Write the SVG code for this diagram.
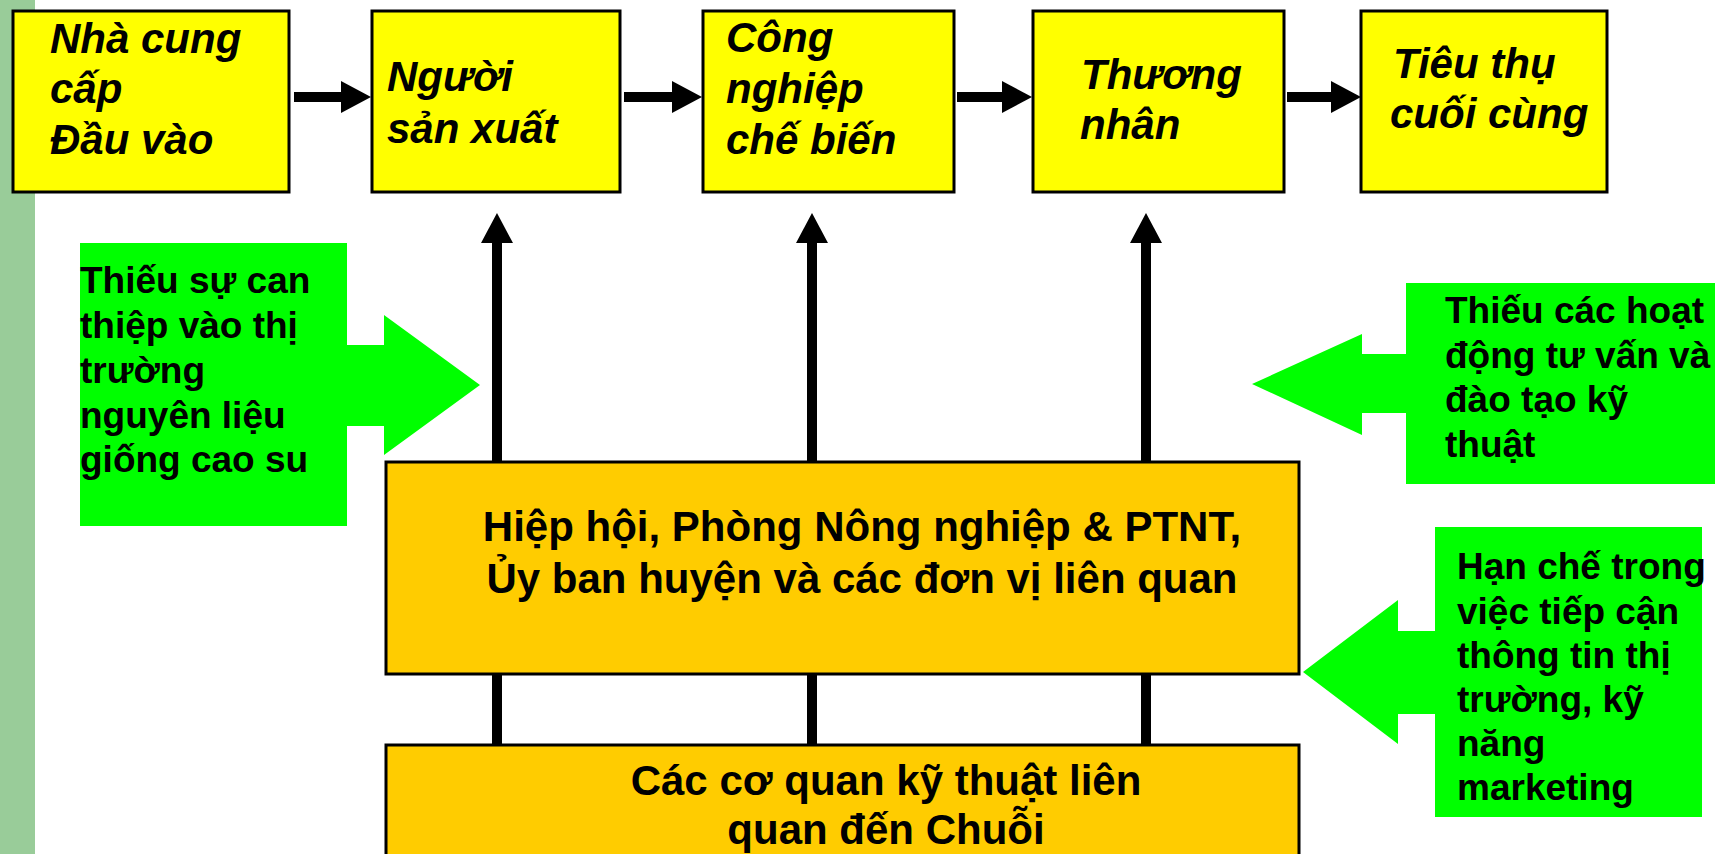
<svg xmlns="http://www.w3.org/2000/svg" width="1718" height="854" viewBox="0 0 1718 854">
<style>
.top{fill:#FFFF00;stroke:#000;stroke-width:3}
.org{fill:#FFCC00;stroke:#000;stroke-width:3}
.grn{fill:#00FF00;stroke:none}
.ti{font-family:"Liberation Sans",Arial,sans-serif;font-weight:bold;font-style:italic;font-size:42px;fill:#000}
.tb{font-family:"Liberation Sans",Arial,sans-serif;font-weight:bold;font-size:42px;fill:#000}
.tg{font-family:"Liberation Sans",Arial,sans-serif;font-weight:bold;font-size:37px;fill:#000}
.conn{stroke:#000;stroke-width:10;fill:none}
</style>
<defs>
<marker id="ah" viewBox="0 0 30 32" markerUnits="userSpaceOnUse" markerWidth="30" markerHeight="32" refX="0" refY="16" orient="auto">
<path d="M0,0 L30,16 L0,32 z" fill="#000"/>
</marker>
</defs>
<rect x="0" y="0" width="1718" height="854" fill="#fff"/>
<rect x="0" y="0" width="35" height="854" fill="#99CC99"/>

<g id="connectors">
<path class="conn" d="M294,97 H341" marker-end="url(#ah)"/>
<path class="conn" d="M624,97 H672" marker-end="url(#ah)"/>
<path class="conn" d="M957,97 H1002" marker-end="url(#ah)"/>
<path class="conn" d="M1287,97 H1331" marker-end="url(#ah)"/>
<path class="conn" d="M497,462 V243" marker-end="url(#ah)"/>
<path class="conn" d="M812,462 V243" marker-end="url(#ah)"/>
<path class="conn" d="M1146,462 V243" marker-end="url(#ah)"/>
<path class="conn" d="M497,674 V745"/>
<path class="conn" d="M812,674 V745"/>
<path class="conn" d="M1146,674 V745"/>
</g>

<g id="n1">
<rect class="top" x="13" y="11" width="276" height="181"/>
<text class="ti" x="50" y="53">Nhà cung</text>
<text class="ti" x="50" y="103">cấp</text>
<text class="ti" x="50" y="154">Đầu vào</text>
</g>
<g id="n2">
<rect class="top" x="372" y="11" width="248" height="181"/>
<text class="ti" x="387" y="91">Người</text>
<text class="ti" x="387" y="143">sản xuất</text>
</g>
<g id="n3">
<rect class="top" x="703" y="11" width="251" height="181"/>
<text class="ti" x="726" y="52">Công</text>
<text class="ti" x="726" y="103">nghiệp</text>
<text class="ti" x="726" y="154">chế biến</text>
</g>
<g id="n4">
<rect class="top" x="1033" y="11" width="251" height="181"/>
<text class="ti" x="1081" y="89">Thương</text>
<text class="ti" x="1080" y="139">nhân</text>
</g>
<g id="n5">
<rect class="top" x="1361" y="11" width="246" height="181"/>
<text class="ti" x="1393" y="78">Tiêu thụ</text>
<text class="ti" x="1390" y="128">cuối cùng</text>
</g>

<g id="n6">
<rect class="org" x="386" y="462" width="913" height="212"/>
<text class="tb" x="862" y="541" text-anchor="middle">Hiệp hội, Phòng Nông nghiệp &amp; PTNT,</text>
<text class="tb" x="862" y="593" text-anchor="middle">Ủy ban huyện và các đơn vị liên quan</text>
</g>
<g id="n7">
<rect class="org" x="386" y="745" width="913" height="130"/>
<text class="tb" x="886" y="795" text-anchor="middle">Các cơ quan kỹ thuật liên</text>
<text class="tb" x="886" y="844" text-anchor="middle">quan đến Chuỗi</text>
</g>

<g id="g1">
<path class="grn" d="M80,243 H347 V345 H384 V315 L480,385 L384,455 V426 H347 V526 H80 Z"/>
<text class="tg" x="80" y="293">Thiếu sự can</text>
<text class="tg" x="80" y="338">thiệp vào thị</text>
<text class="tg" x="80" y="383">trường</text>
<text class="tg" x="80" y="428">nguyên liệu</text>
<text class="tg" x="80" y="472">giống cao su</text>
</g>
<g id="g2">
<path class="grn" d="M1715,283 V484 H1406 V413 H1362 V435 L1252,384 L1362,334 V354 H1406 V283 Z"/>
<text class="tg" x="1445" y="323">Thiếu các hoạt</text>
<text class="tg" x="1445" y="368">động tư vấn và</text>
<text class="tg" x="1445" y="412">đào tạo kỹ</text>
<text class="tg" x="1445" y="457">thuật</text>
</g>
<g id="g3">
<path class="grn" d="M1702,527 V817 H1435 V714 H1398 V744 L1303,672 L1398,600 V631 H1435 V527 Z"/>
<text class="tg" x="1457" y="579">Hạn chế trong</text>
<text class="tg" x="1457" y="624">việc tiếp cận</text>
<text class="tg" x="1457" y="668">thông tin thị</text>
<text class="tg" x="1457" y="712">trường, kỹ</text>
<text class="tg" x="1457" y="756">năng</text>
<text class="tg" x="1457" y="800">marketing</text>
</g>
</svg>
